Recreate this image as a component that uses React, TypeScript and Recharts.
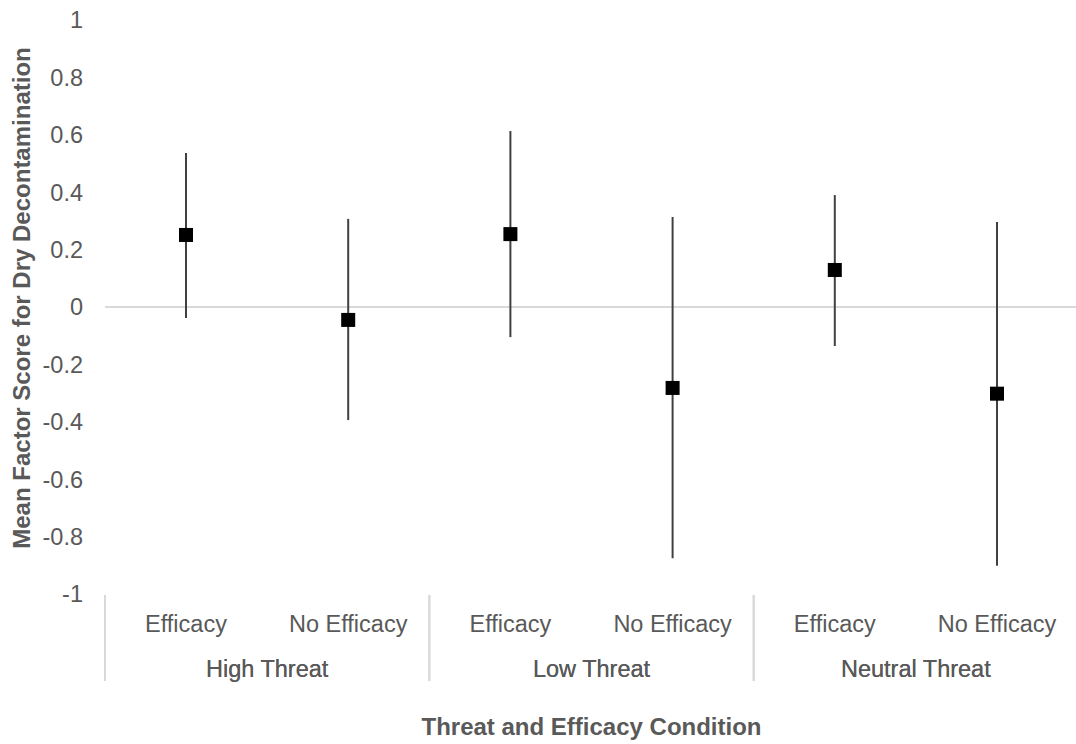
import { ComposedChart, Scatter, ErrorBar, XAxis, YAxis, ReferenceLine, Label } from 'recharts';

const conditions = ['Efficacy', 'No Efficacy', 'Efficacy', 'No Efficacy', 'Efficacy', 'No Efficacy'];
const groups = ['High Threat', 'High Threat', 'Low Threat', 'Low Threat', 'Neutral Threat', 'Neutral Threat'];
const means = [0.251, -0.045, 0.254, -0.282, 0.129, -0.302];
const lowerBounds = [-0.038, -0.394, -0.105, -0.875, -0.136, -0.902];
const upperBounds = [0.537, 0.307, 0.613, 0.314, 0.39, 0.296];
const yTicks = [-1, -0.8, -0.6, -0.4, -0.2, 0, 0.2, 0.4, 0.6, 0.8, 1];

const data = conditions.map((c, i) => ({
  condition: c,
  group: groups[i],
  mean: means[i],
  err: [means[i] - lowerBounds[i], upperBounds[i] - means[i]],
}));

const FONT = '"Liberation Sans", Arial, sans-serif';
const TEXT = '#595959';

const SquareDot = (props: any) => {
  const { cx, cy } = props;
  if (cx == null || cy == null) return null;
  return <rect x={cx - 7} y={cy - 7} width={14} height={14} fill="#000000" />;
};

const ConditionTick = ({ x, y, payload }: any) => (
  <text x={x} y={y + 30} textAnchor="middle" fill={TEXT} fontSize={23.5} fontFamily={FONT}>
    {payload.value}
  </text>
);

// group label + separator line at the left edge of each band
const GroupTick = ({ x, y, payload }: any) => {
  const half = payload.offset || 162;
  return (
    <g>
      <line x1={x - half} x2={x - half} y1={y - 51} y2={y + 35} stroke="#d9d9d9" strokeWidth={2} />
      <text x={x} y={y + 31} textAnchor="middle" fill={TEXT} fontSize={23.5} fontFamily={FONT}>
        {payload.value}
      </text>
    </g>
  );
};

export default function App() {
  return (
    <div style={{ position: 'absolute', left: 0, top: 0, background: '#fff' }}>
      <ComposedChart
        width={1076}
        height={744}
        data={data}
        margin={{ top: 20, right: -2, left: 0, bottom: 0 }}
      >
        <XAxis
          xAxisId="axisA"
          dataKey="condition"
          height={44}
          padding={{ left: 81, right: 81 }}
          axisLine={false}
          tickLine={false}
          interval={0}
          tick={<ConditionTick />}
        />
        <XAxis
          xAxisId="axisB"
          dataKey="group"
          scale="band"
          allowDuplicatedCategory={false}
          height={106}
          axisLine={false}
          tickLine={false}
          interval={0}
          tick={<GroupTick />}
        >
          <Label
            content={({ viewBox }: any) => (
              <text
                x={viewBox.x + viewBox.width / 2}
                y={viewBox.y + viewBox.height - 9}
                textAnchor="middle"
                fill={TEXT}
                fontSize={24}
                fontWeight="bold"
                fontFamily={FONT}
              >
                Threat and Efficacy Condition
              </text>
            )}
          />
        </XAxis>
        <YAxis
          type="number"
          domain={[-1, 1]}
          ticks={yTicks}
          interval={0}
          width={105}
          axisLine={false}
          tickLine={false}
          tickMargin={16}
          tick={{ fill: TEXT, fontSize: 23.5, fontFamily: FONT }}
        >
          <Label
            content={() => (
              <text
                x={30}
                y={298}
                transform="rotate(-90, 30, 298)"
                textAnchor="middle"
                fill={TEXT}
                fontSize={24}
                fontWeight="bold"
                fontFamily={FONT}
              >
                Mean Factor Score for Dry Decontamination
              </text>
            )}
          />
        </YAxis>
        <ReferenceLine y={0} xAxisId="axisA" stroke="#d9d9d9" strokeWidth={2} />
        <Scatter xAxisId="axisA" dataKey="mean" shape={<SquareDot />} isAnimationActive={false}>
          <ErrorBar dataKey="err" direction="y" width={0} stroke="#404040" strokeWidth={2} isAnimationActive={false} />
        </Scatter>
      </ComposedChart>
    </div>
  );
}
